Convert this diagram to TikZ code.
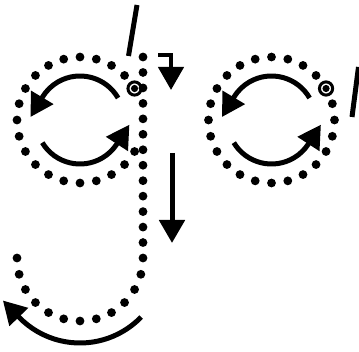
\documentclass[tikz,border=0pt]{standalone}
\usepackage{tikz}
\usetikzlibrary{arrows.meta}
\begin{document}
\begin{tikzpicture}[x=1pt,y=1pt,>={Triangle[length=23pt,width=25pt]},
  pen/.style={line width=5pt},startmark/.style={line width=3pt}]
\useasboundingbox (0,0) rectangle (359,351);
% letter g
\foreach \a in {45,60,...,330}
 {\fill[shift={(80,231)}] (\a:63) circle (4.4);}
\foreach \i in {0,...,13}
 {\fill (143,{294-\i*201/13}) circle (4.4);}
\foreach \a in {-15,-30,...,-180}
 {\fill[shift={(80,93)}] (\a:63) circle (4.4);}
% letter o
\foreach \a in {45,60,...,375}
 {\fill[shift={(271.5,231)}] (\a:63) circle (4.4);}
% start points
\foreach \cx in {80,271.5}
 {\draw[startmark] ([shift={(30:63)}]\cx,231) circle (6.6);
  \fill ([shift={(30:63)}]\cx,231) circle (3.6);
  \draw[pen,->] ([shift={(30:44)}]\cx,231) arc[start angle=30,end angle=149,radius=44] -- ++(239:23);
  \draw[pen,->] ([shift={(211:44)}]\cx,231) arc[start angle=211,end angle=327,radius=44] -- ++(57:23);}
\draw[pen,->] ([shift={(-44:85)}]80,93) arc[start angle=-44,end angle=-136,radius=85] -- ++(134:23);
\draw[line width=4.4pt,->] (158,296) -| (171,261);
\draw[pen,->] (172,198) -- (172,108);
\draw[pen] (137,346) -- (128.5,295);
\draw[pen] (358.5,284) -- (352,234);
\end{tikzpicture}
\end{document}
